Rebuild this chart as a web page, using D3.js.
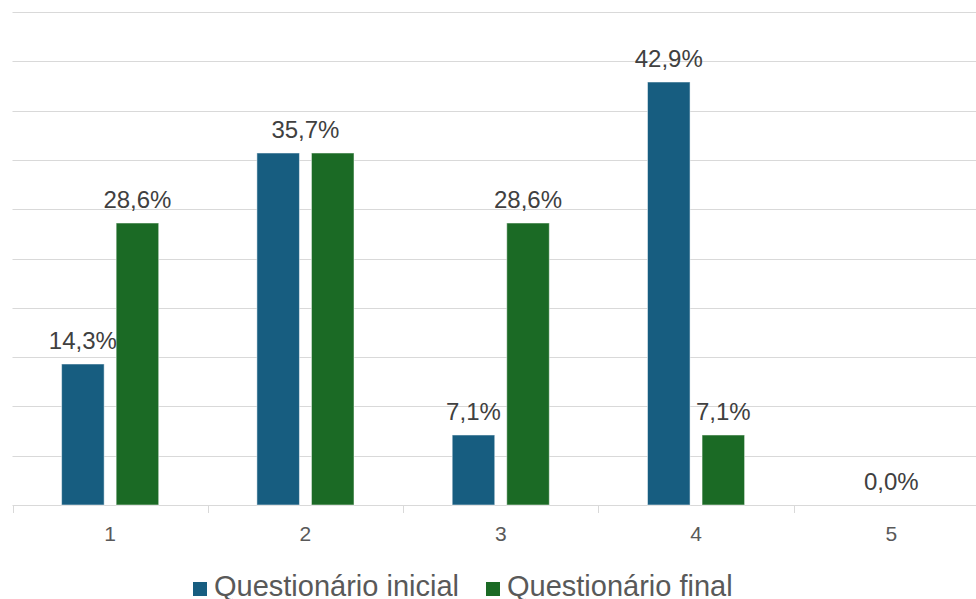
<!DOCTYPE html>
<html><head><meta charset="utf-8">
<script src="https://cdn.jsdelivr.net/npm/d3@7"></script>
<style>body{margin:0;background:#fff}svg{display:block}text{font-family:"Liberation Sans",Arial,sans-serif}</style>
</head><body><svg id="c" width="976" height="599"></svg>
<script>
const categories = ["1","2","3","4","5"];
const seriesNames = ["Questionário inicial","Questionário final"];
const initialValues = [14.3, 35.7, 7.1, 42.9, 0.0];
const finalValues = [28.6, 35.7, 28.6, 7.1, 0.0];
const colors = ["#175d80","#1b6a25"];
const yTicks = [0,5,10,15,20,25,30,35,40,45,50];

const svg = d3.select("#c");
const x0 = d3.scaleBand().domain(categories).range([12.5, 989]).padding(0);
const x1 = d3.scaleBand().domain([0,1]).range([0, x0.bandwidth()]).paddingInner(0.22).paddingOuter(0.9);
const y = d3.scaleLinear().domain([0,50]).range([505, 12]);
const fmt = v => v.toFixed(1).replace(".", ",") + "%";

// gridlines
svg.append("g").selectAll("line").data(yTicks.filter(t=>t>0)).join("line")
  .attr("x1", 12.5).attr("x2", 976)
  .attr("y1", d=>Math.round(y(d))+0.5).attr("y2", d=>Math.round(y(d))+0.5)
  .attr("stroke", "#d9d9d9").attr("stroke-width", 1);

// x axis
const xAxis = d3.axisBottom(x0).tickSize(0).tickPadding(21);
const ax = svg.append("g").attr("transform", `translate(0,${Math.round(y(0))+0.5})`).call(xAxis);
ax.select(".domain").attr("stroke", "#d9d9d9").attr("d", "M12.5,0H976");
ax.selectAll("text").attr("font-size", 21).attr("fill", "#595959").attr("font-family", "Liberation Sans, Arial, sans-serif");
// category boundary ticks
svg.append("g").selectAll("line").data(categories).join("line")
  .attr("x1", d=>Math.round(x0(d))+0.5).attr("x2", d=>Math.round(x0(d))+0.5)
  .attr("y1", Math.round(y(0))).attr("y2", Math.round(y(0))+8)
  .attr("stroke", "#d9d9d9");

// bars
const series = [initialValues, finalValues];
series.forEach((vals, si) => {
  svg.append("g").selectAll("rect").data(categories).join("rect")
    .attr("x", (c)=>x0(c)+x1(si))
    .attr("width", x1.bandwidth())
    .attr("y", (c,i)=>y(vals[i]))
    .attr("height", (c,i)=>y(0)-y(vals[i]))
    .attr("fill", colors[si])
    .attr("stroke", "#ffffff").attr("stroke-opacity", 0.5).attr("stroke-width", 1);
});

// labels
const labels = [];
categories.forEach((c,i) => {
  const a = initialValues[i], b = finalValues[i];
  if (a === b) {
    labels.push({x: x0(c)+x0.bandwidth()/2, v: a});
  } else {
    labels.push({x: x0(c)+x1(0)+x1.bandwidth()/2, v: a});
    labels.push({x: x0(c)+x1(1)+x1.bandwidth()/2, v: b});
  }
});
svg.append("g").selectAll("text").data(labels).join("text")
  .attr("x", d=>d.x).attr("y", d=>y(d.v)-15)
  .attr("text-anchor", "middle").attr("font-size", 24).attr("fill", "#404040")
  .text(d=>fmt(d.v));

// legend
const legendX = [193, 486];
const lg = svg.append("g");
seriesNames.forEach((n,i) => {
  lg.append("rect").attr("x", legendX[i]).attr("y", 582).attr("width", 14).attr("height", 14).attr("fill", colors[i]);
  lg.append("text").attr("x", legendX[i]+21).attr("y", 596).attr("font-size", 29).attr("fill", "#595959").text(n);
});
</script></body></html>
